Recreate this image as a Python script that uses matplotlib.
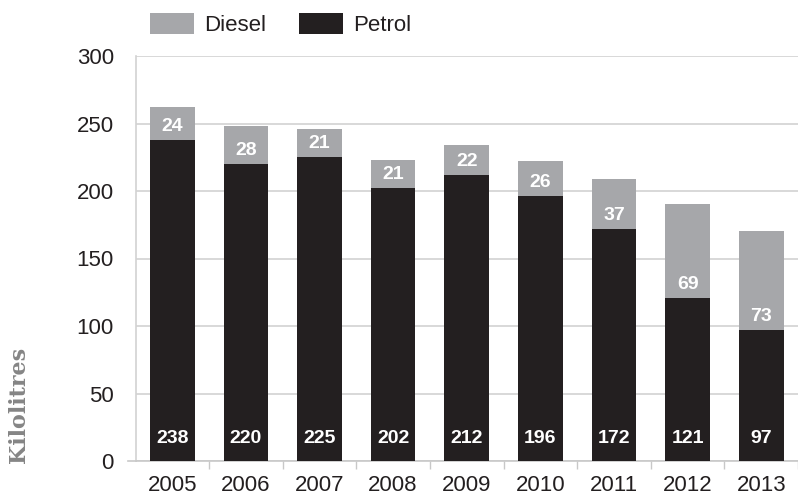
"""Stacked bar chart: petrol and diesel volumes in kilolitres, 2005-2013."""

import matplotlib
import matplotlib.pyplot as plt
from matplotlib.patches import Patch

matplotlib.use("Agg")

# Data
years = ["2005", "2006", "2007", "2008", "2009", "2010", "2011", "2012", "2013"]
petrol = [238, 220, 225, 202, 212, 196, 172, 121, 97]
diesel = [24, 28, 21, 21, 22, 26, 37, 69, 73]
y_ticks = [0, 50, 100, 150, 200, 250, 300]

_DIESEL = "#a6a7aa"
_PETROL = "#231f20"
_GRID = "#d2d2d2"
_TEXT = "#231f20"
_FONT = ["Liberation Sans Narrow", "Liberation Sans", "DejaVu Sans"]

plt.rcParams["font.family"] = _FONT

fig = plt.figure(figsize=(7.98, 4.95), dpi=100)
ax = fig.add_axes([136 / 798, 34 / 495, 662 / 798, 405 / 495])

x = list(range(len(years)))
width = 0.607

ax.bar(x, petrol, width=width, color=_PETROL, zorder=3, label="Petrol")
ax.bar(x, diesel, width=width, bottom=petrol, color=_DIESEL, zorder=3,
       label="Diesel")

# Value labels: petrol near the base, diesel just above the petrol top
for xi, p, d in zip(x, petrol, diesel):
    ax.text(xi, 17, f"{p}", ha="center", va="center", color="white",
            fontsize=14, fontweight="bold", zorder=4)
    ax.text(xi, p + 10, f"{d}", ha="center", va="center", color="white",
            fontsize=14, fontweight="bold", zorder=4)

ax.set_xlim(-0.4926, 8.44)
ax.set_ylim(0, 300)

ax.set_yticks(y_ticks)
ax.set_yticklabels([str(v) for v in y_ticks], fontsize=16, color=_TEXT)
ax.set_xticks(x)
ax.set_xticklabels(years, fontsize=16, color=_TEXT)
ax.set_xticks([i + 0.5 for i in x], minor=True)

ax.tick_params(axis="y", length=0, pad=16)
ax.tick_params(axis="x", which="major", length=0, pad=10)
ax.tick_params(axis="x", which="minor", length=6, width=1, color="#c8c8c8",
               direction="out")

ax.grid(axis="y", color=_GRID, linewidth=1.2, zorder=0)
for spine in ("top", "right"):
    ax.spines[spine].set_visible(False)
ax.spines["left"].set_color(_GRID)
ax.spines["left"].set_linewidth(1.2)
ax.spines["bottom"].set_color("#c8c8c8")
ax.spines["bottom"].set_linewidth(1.2)

# Bottom axis line runs a little past the left spine
ax.plot([-0.012, 0], [0, 0], transform=ax.transAxes, color="#c8c8c8",
        linewidth=1.2, clip_on=False, zorder=2)

fig.text(19 / 798, 1 - 405 / 495, "Kilolitres", rotation=90,
         ha="center", va="center", fontsize=16, fontweight="bold",
         color="#858585", family="DejaVu Serif")

handles = [Patch(facecolor=_DIESEL, label="Diesel"),
           Patch(facecolor=_PETROL, label="Petrol")]
fig.legend(handles=handles, loc="center left",
           bbox_to_anchor=(150 / 798, 1 - 24.5 / 495), ncol=2,
           frameon=False, fontsize=16, handlelength=2.0, handleheight=1.05,
           handletextpad=0.45, columnspacing=1.45, borderpad=0,
           borderaxespad=0, labelcolor=_TEXT)

fig.savefig("out.png", dpi=100)
plt.close(fig)
